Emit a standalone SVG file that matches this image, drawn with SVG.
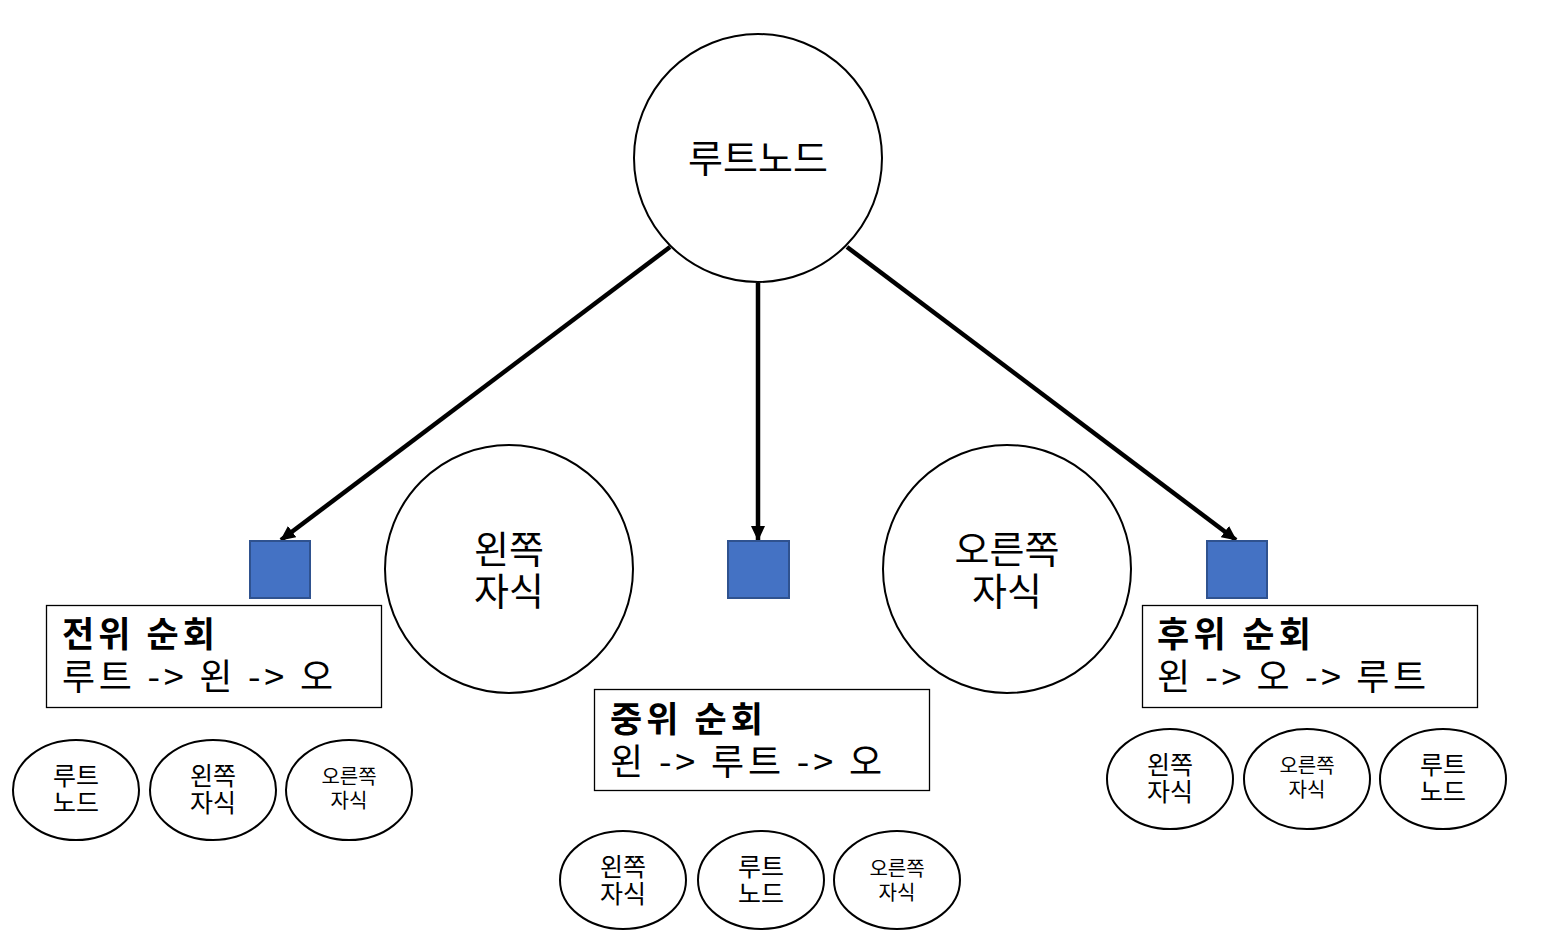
<svg xmlns="http://www.w3.org/2000/svg" width="1543" height="931" viewBox="0 0 1543 931">
<style>
  text { font-family: "Noto Sans CJK KR", "Noto Sans", sans-serif; fill: #000; }
  .node { fill: #fff; stroke: #000; stroke-width: 2; }
  .sq { fill: #4472C4; stroke: #2F528F; stroke-width: 2; }
  .box { fill: #fff; stroke: #000; stroke-width: 1.3; }
  .big { font-size: 38px; text-anchor: middle; }
  .title { font-size: 35px; font-weight: bold; }
  .line { font-size: 36px; }
  .sm { font-size: 25px; text-anchor: middle; }
  .xs { font-size: 20px; text-anchor: middle; }
  .conn { stroke: #000; stroke-width: 4.5; fill: none; marker-end: url(#arr); }
</style>
<defs>
  <marker id="arr" markerUnits="userSpaceOnUse" markerWidth="16" markerHeight="14" refX="14" refY="7" orient="auto">
    <path d="M0,0 L15,7 L0,14 z" fill="#000"/>
  </marker>
</defs>
<rect width="1543" height="931" fill="#fff"/>

<g id="connectors">
  <line class="conn" x1="670" y1="247" x2="281" y2="540"/>
  <line class="conn" x1="758" y1="283" x2="758" y2="540"/>
  <line class="conn" x1="847" y1="247" x2="1236" y2="540"/>
</g>

<g id="root">
  <circle class="node" cx="758" cy="158" r="124"/>
  <text class="big" x="758" y="172" textLength="140" lengthAdjust="spacing">루트노드</text>
</g>
<g id="left-child">
  <circle class="node" cx="509" cy="569" r="124"/>
  <text class="big"><tspan x="509" y="563">왼쪽</tspan><tspan x="509" y="605">자식</tspan></text>
</g>
<g id="right-child">
  <circle class="node" cx="1007" cy="569" r="124"/>
  <text class="big"><tspan x="1007" y="563">오른쪽</tspan><tspan x="1007" y="605">자식</tspan></text>
</g>

<g id="sq-pre"><rect class="sq" x="250" y="541" width="60" height="57"/></g>
<g id="sq-in"><rect class="sq" x="728" y="541" width="61" height="57"/></g>
<g id="sq-post"><rect class="sq" x="1207" y="541" width="60" height="57"/></g>

<g id="box-pre">
  <rect class="box" x="46.5" y="605.5" width="335" height="102"/>
  <text class="title" x="62" y="647" textLength="153" lengthAdjust="spacing">전위 순회</text>
  <text class="line" x="62" y="690" textLength="271" lengthAdjust="spacing">루트 -&gt; 왼 -&gt; 오</text>
</g>
<g id="box-in">
  <rect class="box" x="594.5" y="689.5" width="335" height="101"/>
  <text class="title" x="610" y="732" textLength="153" lengthAdjust="spacing">중위 순회</text>
  <text class="line" x="610" y="775" textLength="272" lengthAdjust="spacing">왼 -&gt; 루트 -&gt; 오</text>
</g>
<g id="box-post">
  <rect class="box" x="1142.5" y="605.5" width="335" height="102"/>
  <text class="title" x="1157" y="647" textLength="154" lengthAdjust="spacing">후위 순회</text>
  <text class="line" x="1157" y="690" textLength="269" lengthAdjust="spacing">왼 -&gt; 오 -&gt; 루트</text>
</g>

<g id="pre-1"><ellipse class="node" cx="76" cy="790" rx="63" ry="50"/><text class="sm"><tspan x="76" y="785">루트</tspan><tspan x="76" y="812">노드</tspan></text></g>
<g id="pre-2"><ellipse class="node" cx="213" cy="790" rx="63" ry="50"/><text class="sm"><tspan x="213" y="785">왼쪽</tspan><tspan x="213" y="812">자식</tspan></text></g>
<g id="pre-3"><ellipse class="node" cx="349" cy="790" rx="63" ry="50"/><text class="xs"><tspan x="349" y="784">오른쪽</tspan><tspan x="349" y="808">자식</tspan></text></g>

<g id="in-1"><ellipse class="node" cx="623" cy="880" rx="63" ry="49"/><text class="sm"><tspan x="623" y="876">왼쪽</tspan><tspan x="623" y="903">자식</tspan></text></g>
<g id="in-2"><ellipse class="node" cx="761" cy="880" rx="63" ry="49"/><text class="sm"><tspan x="761" y="876">루트</tspan><tspan x="761" y="903">노드</tspan></text></g>
<g id="in-3"><ellipse class="node" cx="897" cy="880" rx="63" ry="49"/><text class="xs"><tspan x="897" y="876">오른쪽</tspan><tspan x="897" y="900">자식</tspan></text></g>

<g id="post-1"><ellipse class="node" cx="1170" cy="779" rx="63" ry="50"/><text class="sm"><tspan x="1170" y="774">왼쪽</tspan><tspan x="1170" y="801">자식</tspan></text></g>
<g id="post-2"><ellipse class="node" cx="1307" cy="779" rx="63" ry="50"/><text class="xs"><tspan x="1307" y="773">오른쪽</tspan><tspan x="1307" y="797">자식</tspan></text></g>
<g id="post-3"><ellipse class="node" cx="1443" cy="779" rx="63" ry="50"/><text class="sm"><tspan x="1443" y="774">루트</tspan><tspan x="1443" y="801">노드</tspan></text></g>
</svg>
